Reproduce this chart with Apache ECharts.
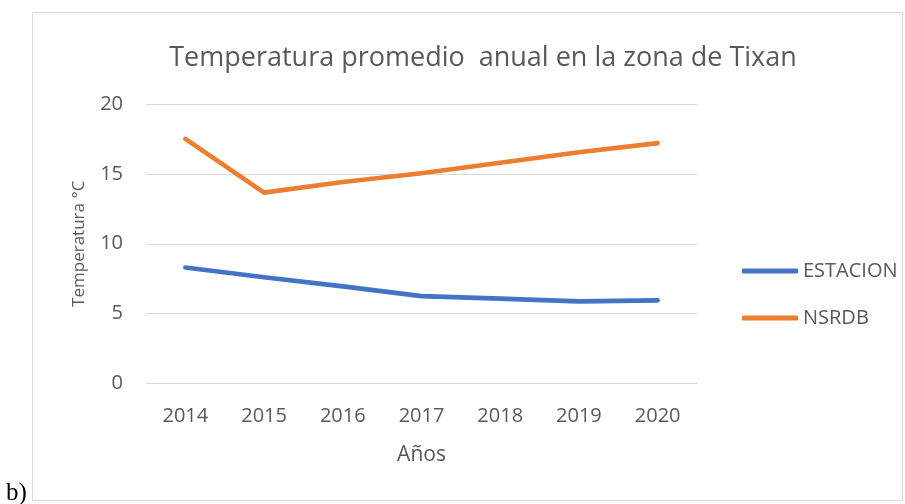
<!DOCTYPE html>
<html>
<head>
<meta charset="utf-8">
<script src="https://cdn.jsdelivr.net/npm/echarts@6/dist/echarts.min.js"></script>
<style>
  html, body { margin: 0; padding: 0; background: #fff; }
  #chart { width: 905px; height: 504px; }
</style>
</head>
<body>
<div id="chart"></div>
<script>
// datos
var years = ['2014', '2015', '2016', '2017', '2018', '2019', '2020'];
var estacion = [8.3, 7.6, 6.95, 6.25, 6.07, 5.88, 5.95];
var nsrdb = [17.5, 13.66, 14.42, 15.05, 15.8, 16.55, 17.2];
var yTicks = [0, 5, 10, 15, 20];

var myChart = echarts.init(document.getElementById('chart'));
var textColor = '#595959';
var font = 'Open Sans, Liberation Sans, sans-serif';

var option = {
  animation: false,
  backgroundColor: '#fff',
  title: {
    text: 'Temperatura promedio  anual en la zona de Tixan',
    left: 478,
    top: 40,
    textAlign: 'center',
    textStyle: { color: textColor, fontSize: 27, fontWeight: 'normal', fontFamily: font }
  },
  graphic: [
    {
      type: 'rect',
      shape: { x: 32.5, y: 12.5, width: 870, height: 488 },
      style: { fill: 'none', stroke: '#d9d9d9', lineWidth: 1 },
      silent: true
    },
    {
      type: 'text',
      left: 6,
      top: 481,
      style: { text: 'b)', fill: '#000', fontSize: 25, fontFamily: 'Liberation Serif, serif' }
    }
  ],
  legend: {
    orient: 'vertical',
    left: 737,
    top: 256,
    itemGap: 27,
    itemWidth: 56,
    itemHeight: 5,
    icon: 'roundRect',
    textStyle: { color: textColor, fontSize: 20, lineHeight: 20, fontFamily: font },
    data: ['ESTACION', 'NSRDB']
  },
  grid: { left: 146, top: 104, width: 551, height: 279.5 },
  xAxis: {
    type: 'category',
    data: years,
    boundaryGap: true,
    name: 'Años',
    nameLocation: 'middle',
    nameGap: 61,
    nameMoveOverlap: false,
    nameTextStyle: { color: textColor, fontSize: 21, fontFamily: font },
    axisLine: { lineStyle: { color: '#d9d9d9', width: 1 } },
    axisTick: { show: false },
    axisLabel: { color: textColor, fontSize: 20, fontFamily: font, margin: 23 }
  },
  yAxis: {
    type: 'value',
    min: yTicks[0],
    max: yTicks[yTicks.length - 1],
    interval: 5,
    name: 'Temperatura °C',
    nameLocation: 'middle',
    nameGap: 58,
    nameMoveOverlap: false,
    nameTextStyle: { color: textColor, fontSize: 17, fontFamily: font },
    axisLine: { show: false },
    axisTick: { show: false },
    splitLine: { lineStyle: { color: '#d9d9d9', width: 1 } },
    axisLabel: { color: textColor, fontSize: 20, fontFamily: font, margin: 23 }
  },
  series: [
    {
      name: 'ESTACION',
      type: 'line',
      data: estacion,
      symbol: 'none',
      color: '#4472C4',
      lineStyle: { width: 4.6, cap: 'round', join: 'round' }
    },
    {
      name: 'NSRDB',
      type: 'line',
      data: nsrdb,
      symbol: 'none',
      color: '#ED7D31',
      lineStyle: { width: 4.6, cap: 'round', join: 'round' }
    }
  ]
};
myChart.setOption(option);
</script>
</body>
</html>
